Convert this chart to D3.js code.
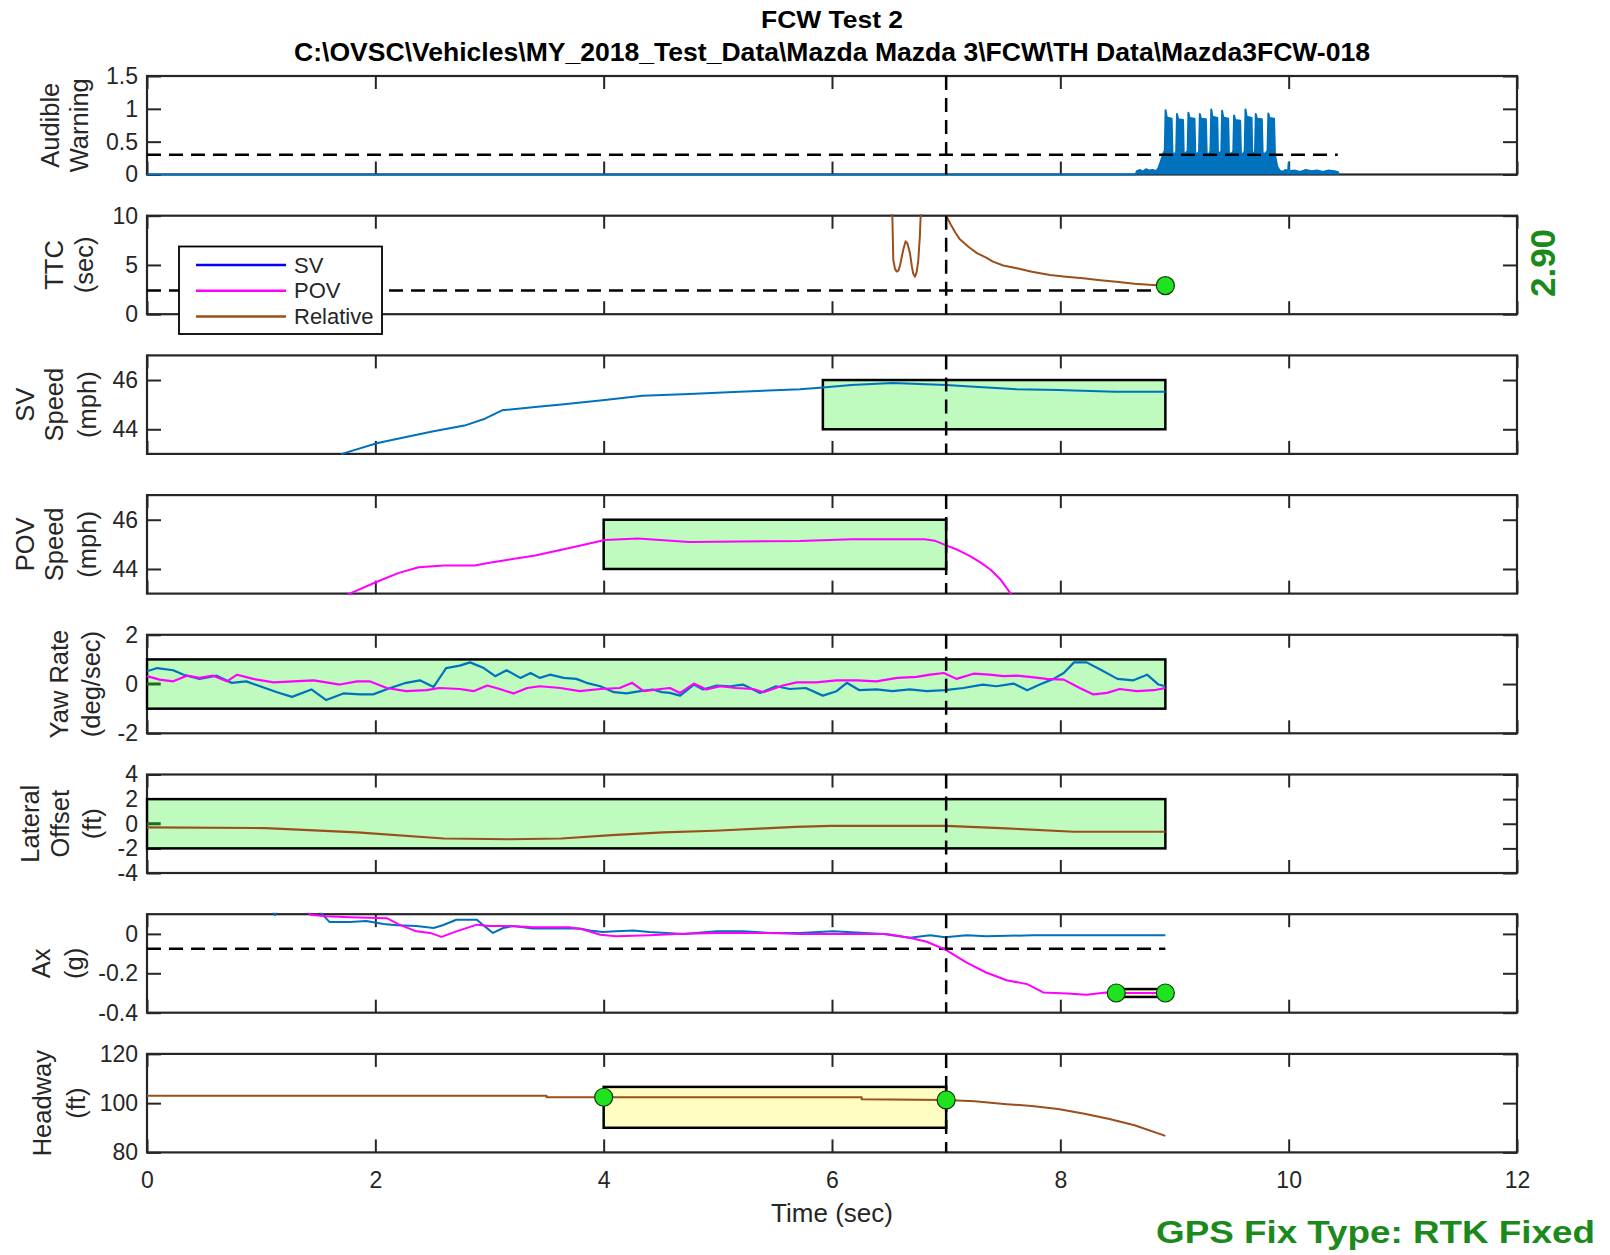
<!DOCTYPE html>
<html>
<head>
<meta charset="utf-8">
<script src="https://cdn.jsdelivr.net/npm/d3@7"></script>
<style>
  html, body { margin: 0; padding: 0; background: #fff; }
  svg { display: block; font-family: "Liberation Sans", Arial, Helvetica, sans-serif; }
</style>
</head>
<body>
<svg id="chart" width="1610" height="1255"></svg>
<script>
// ---------------- time axis ----------------
const timeTicks = [0, 2, 4, 6, 8, 10, 12];
const eventTime = 7;

// ---------------- audible warning (envelope of the buzzer signal) ----------------
const audibleT = [0, 8.66, 8.67, 8.70, 8.72, 8.75, 8.78, 8.81, 8.84, 8.86, 8.88, 8.905,
  8.915, 8.922, 8.932, 8.975, 8.982, 9.000,
  9.015, 9.022, 9.032, 9.075, 9.082, 9.095,
  9.115, 9.122, 9.132, 9.175, 9.182, 9.200,
  9.215, 9.222, 9.232, 9.275, 9.282, 9.300,
  9.315, 9.322, 9.332, 9.375, 9.382, 9.395,
  9.410, 9.417, 9.427, 9.470, 9.477, 9.495,
  9.515, 9.522, 9.532, 9.575, 9.582, 9.600,
  9.615, 9.622, 9.632, 9.675, 9.682, 9.695,
  9.705, 9.712, 9.722, 9.765, 9.772, 9.790,
  9.815, 9.822, 9.832, 9.872, 9.880, 9.900, 9.920,
  9.95, 9.97, 9.995, 10.0, 10.005, 10.05, 10.10, 10.15, 10.20, 10.25, 10.30, 10.35, 10.40, 10.43, 10.44];
const audibleV = [0, 0, 0.05, 0.07, 0.04, 0.08, 0.06, 0.07, 0.05, 0.10, 0.20, 0.33,
  0.36, 0.98, 0.87, 0.85, 0.33, 0.30,
  0.35, 0.92, 0.84, 0.83, 0.20, 0.32,
  0.36, 0.94, 0.86, 0.85, 0.33, 0.31,
  0.35, 0.92, 0.85, 0.84, 0.32, 0.30,
  0.36, 0.99, 0.88, 0.86, 0.20, 0.33,
  0.35, 0.97, 0.87, 0.85, 0.33, 0.31,
  0.35, 0.90, 0.83, 0.82, 0.32, 0.31,
  0.36, 0.99, 0.88, 0.86, 0.20, 0.32,
  0.35, 0.92, 0.85, 0.84, 0.33, 0.31,
  0.36, 0.93, 0.86, 0.85, 0.30, 0.12, 0.06,
  0.04, 0.07, 0.05, 0.18, 0.05, 0.06, 0.04, 0.07, 0.05, 0.06, 0.04, 0.06, 0.05, 0.04, 0];
const audibleThreshold = 0.3;
const audibleThresholdEnd = 10.43;

// ---------------- time to collision (relative) ----------------
const ttcDipT = [6.528, 6.537, 6.552, 6.566, 6.580, 6.595, 6.625, 6.645, 6.660, 6.683, 6.700, 6.712, 6.727, 6.742, 6.756, 6.770, 6.777];
const ttcDipV = [10.2, 5.5, 4.6, 4.33, 4.4, 4.9, 6.6, 7.4, 7.2, 6.2, 4.8, 4.1, 3.81, 4.3, 5.5, 8.0, 10.2];
const ttcT = [7.00, 7.04, 7.08, 7.12, 7.20, 7.27, 7.35, 7.41, 7.50, 7.62, 7.75, 7.91, 8.05, 8.20, 8.35, 8.49, 8.65, 8.78, 8.92];
const ttcV = [10.0, 9.1, 8.3, 7.6, 6.8, 6.2, 5.75, 5.34, 4.95, 4.66, 4.3, 3.98, 3.8, 3.64, 3.45, 3.3, 3.1, 2.98, 2.90];
const ttcThreshold = 2.4;

// ---------------- speeds (mph) ----------------
const svSpeedT = [1.70, 2.02, 2.29, 2.51, 2.78, 2.96, 3.11, 3.40, 3.63, 4.01, 4.34, 4.75, 5.19, 5.72, 5.92, 6.17, 6.53, 7.00, 7.21, 7.62, 7.98, 8.48, 8.92];
const svSpeedV = [42.99, 43.44, 43.71, 43.92, 44.15, 44.43, 44.77, 44.90, 45.01, 45.19, 45.36, 45.43, 45.52, 45.63, 45.70, 45.80, 45.88, 45.80, 45.74, 45.63, 45.59, 45.52, 45.52];
const povSpeedT = [1.76, 2.02, 2.20, 2.38, 2.60, 2.87, 3.00, 3.40, 3.72, 4.01, 4.30, 4.75, 5.72, 6.17, 6.81, 6.90, 7.00, 7.10, 7.21, 7.30, 7.39, 7.48, 7.57];
const povSpeedV = [42.97, 43.49, 43.83, 44.07, 44.14, 44.14, 44.25, 44.55, 44.87, 45.18, 45.24, 45.10, 45.14, 45.21, 45.21, 45.15, 44.96, 44.78, 44.52, 44.27, 43.97, 43.55, 42.97];

// ---------------- yaw rate (deg/sec) ----------------
const yawSvT = [0.00,0.09,0.23,0.32,0.46,0.61,0.74,0.87,0.99,1.14,1.27,1.44,1.57,1.72,1.87,1.98,2.13,2.27,2.39,2.51,2.62,2.74,2.83,2.95,3.05,3.15,3.27,3.36,3.44,3.53,3.65,3.76,3.85,3.97,4.09,4.20,4.32,4.43,4.51,4.58,4.67,4.79,4.87,4.99,5.11,5.22,5.37,5.51,5.63,5.77,5.92,6.04,6.13,6.24,6.39,6.53,6.68,6.83,6.99,7.15,7.32,7.44,7.59,7.71,7.82,7.94,8.03,8.12,8.23,8.35,8.50,8.64,8.76,8.86,8.92];
const yawSvV = [0.52,0.65,0.56,0.38,0.21,0.34,0.05,0.11,-0.09,-0.33,-0.52,-0.22,-0.65,-0.38,-0.42,-0.42,-0.16,0.05,0.15,-0.12,0.65,0.75,0.88,0.65,0.32,0.56,0.25,0.45,0.25,0.38,0.25,0.21,0.05,-0.09,-0.33,-0.38,-0.29,-0.22,-0.33,-0.36,-0.47,-0.02,-0.22,-0.06,-0.09,-0.02,-0.36,-0.09,-0.20,-0.16,-0.47,-0.29,0.05,-0.25,-0.22,-0.29,-0.22,-0.29,-0.25,-0.16,-0.02,-0.09,0.02,-0.25,-0.02,0.21,0.45,0.88,0.88,0.59,0.21,0.15,0.38,-0.02,-0.09];
const yawPovT = [0.00,0.11,0.23,0.35,0.46,0.58,0.70,0.79,0.93,1.11,1.28,1.46,1.57,1.69,1.84,1.95,2.10,2.27,2.45,2.56,2.74,2.86,2.98,3.09,3.21,3.33,3.44,3.62,3.79,3.97,4.14,4.25,4.35,4.50,4.58,4.67,4.79,4.90,5.02,5.16,5.31,5.40,5.57,5.69,5.86,6.04,6.22,6.39,6.57,6.74,6.86,6.98,7.09,7.24,7.38,7.50,7.62,7.73,7.88,8.03,8.17,8.29,8.41,8.52,8.67,8.82,8.92];
const yawPovV = [0.32,0.18,0.11,0.34,0.25,0.34,0.11,0.38,0.21,0.07,0.11,0.15,0.07,-0.02,0.11,0.11,-0.16,-0.29,-0.25,-0.16,-0.20,-0.29,-0.06,-0.20,-0.38,-0.16,-0.09,-0.16,-0.29,-0.20,-0.16,0.05,-0.29,-0.20,-0.16,-0.36,0.02,-0.22,-0.09,-0.16,-0.20,-0.33,-0.06,0.07,0.07,0.15,0.15,0.11,0.25,0.29,0.38,0.45,0.21,0.42,0.38,0.32,0.34,0.29,0.21,0.18,-0.16,-0.42,-0.36,-0.20,-0.29,-0.25,-0.16];
const yawRelT = [0.00, 0.12];
const yawRelV = [0.0, 0.0];

// ---------------- lateral offset (ft) ----------------
const latT = [0.00, 1.04, 1.84, 2.60, 3.18, 3.63, 4.07, 4.52, 4.97, 5.41, 5.68, 5.99, 7.00, 7.53, 8.12, 8.92];
const latV = [-0.30, -0.35, -0.70, -1.20, -1.26, -1.20, -0.93, -0.70, -0.57, -0.38, -0.25, -0.18, -0.18, -0.38, -0.65, -0.65];
const latRelT = [0.00, 0.12];
const latRelV = [0.0, 0.0];

// ---------------- longitudinal acceleration (g) ----------------
const axSvT = [1.10,1.12,1.14,1.50,1.55,1.60,1.78,1.92,2.07,2.19,2.36,2.51,2.59,2.71,2.89,2.94,3.03,3.12,3.21,3.38,3.79,3.88,3.99,4.11,4.26,4.40,4.55,4.70,4.99,5.22,5.46,5.72,6.01,6.45,6.68,6.86,6.99,7.18,7.35,7.76,8.92];
const axSvV = [0.12,0.096,0.12,0.12,0.09,0.06,0.06,0.065,0.05,0.044,0.04,0.03,0.044,0.072,0.072,0.047,0.005,0.03,0.04,0.027,0.027,0.017,0.01,0.013,0.017,0.01,0.005,0.0,0.013,0.013,0.005,0.005,0.013,0.0,-0.02,-0.007,-0.017,-0.007,-0.012,-0.007,-0.007];
const axPovT = [1.40,1.43,1.57,1.78,2.10,2.21,2.36,2.48,2.58,2.71,2.89,3.00,3.18,3.38,3.70,3.82,3.97,4.11,4.40,4.64,4.99,5.46,5.72,6.48,6.68,6.83,6.99,7.18,7.35,7.53,7.71,7.85,8.06,8.23,8.40,8.49,8.70,8.92];
const axPovV = [0.12,0.097,0.09,0.085,0.08,0.047,0.013,0.005,-0.015,0.013,0.047,0.04,0.04,0.034,0.034,0.022,-0.004,-0.012,-0.007,0.0,0.005,0.005,0.0,0.0,-0.02,-0.04,-0.079,-0.146,-0.196,-0.235,-0.255,-0.297,-0.302,-0.309,-0.297,-0.300,-0.300,-0.300];
const axThreshold = -0.075;

// ---------------- headway (ft) ----------------
const headwayT = [0.00, 3.50, 3.50, 6.26, 6.26, 7.00, 7.25, 7.53, 7.75, 7.98, 8.20, 8.43, 8.65, 8.92];
const headwayV = [103.0, 103.0, 102.4, 102.4, 101.6, 101.3, 100.8, 99.6, 98.8, 97.6, 95.8, 93.6, 91.0, 86.7];

// ---------------- tolerance windows ----------------
const svBoxT = [5.92, 8.92],  svBoxV = [44, 46];
const povBoxT = [4, 7],       povBoxV = [44, 46];
const yawBoxT = [0, 8.92],    yawBoxV = [-1, 1];
const latBoxT = [0, 8.92],    latBoxV = [-2, 2];
const axBoxT = [8.49, 8.92],  axBoxV = [-0.32, -0.28];
const hwBoxT = [4, 7],        hwBoxV = [90, 106.6];

const ttcFinal = 2.90;

// ---------------- styling ----------------
const C = {
  sv: '#0072BD', pov: '#FF00FF', rel: '#9A4F1C', relDark: '#1F6A1F',
  legendSv: '#0000FF', green: '#BFFABF', yellow: '#FFFDC2', axis: '#262626',
  dot: '#1FE31F', dotEdge: '#0B3A0B', label: '#1B8A1B'
};
const TICK_FONT = 23;
const LABEL_FONT = 25.5;

const svg = d3.select('#chart');
const x = d3.scaleLinear().domain([0, 12]).range([147, 1517]);
const PANEL_TOP0 = 76, PANEL_STEP = 139.7, PANEL_H = 98.5;

const zip = (t, v) => t.map((d, i) => [d, v[i]]);
const fmt = d => String(d);

const panels = [
  { id: 'aud', label: ['Audible', 'Warning'], lx: [50, 79], domain: [0, 1.5], ticks: [0, 0.5, 1, 1.5] },
  { id: 'ttc', label: ['TTC', '(sec)'], lx: [54, 84], domain: [0, 10], ticks: [0, 5, 10] },
  { id: 'svs', label: ['SV', 'Speed', '(mph)'], lx: [25, 54, 87], domain: [43, 47], ticks: [44, 46] },
  { id: 'pos', label: ['POV', 'Speed', '(mph)'], lx: [25, 54, 87], domain: [43, 47], ticks: [44, 46] },
  { id: 'yaw', label: ['Yaw Rate', '(deg/sec)'], lx: [59, 91], domain: [-2, 2], ticks: [-2, 0, 2] },
  { id: 'lat', label: ['Lateral', 'Offset', '(ft)'], lx: [30, 60, 92], domain: [-4, 4], ticks: [-4, -2, 0, 2, 4] },
  { id: 'ax', label: ['Ax', '(g)'], lx: [41, 74], domain: [-0.4, 0.1], ticks: [-0.4, -0.2, 0] },
  { id: 'hw', label: ['Headway', '(ft)'], lx: [42, 76], domain: [80, 120], ticks: [80, 100, 120] }
];

const defs = svg.append('defs');

panels.forEach((p, i) => {
  const top = PANEL_TOP0 + i * PANEL_STEP;
  const bottom = top + PANEL_H;
  const y = d3.scaleLinear().domain(p.domain).range([bottom, top]);
  p.y = y; p.top = top; p.bottom = bottom;

  defs.append('clipPath').attr('id', 'clip-' + p.id)
    .append('rect').attr('x', x(0) - 1.5).attr('y', top - 1.5)
    .attr('width', x(12) - x(0) + 3).attr('height', PANEL_H + 3);

  const g = svg.append('g').attr('class', 'panel panel-' + p.id);
  p.g = g;
  p.axes = g.append('g').attr('class', 'axes');
  p.plot = g.append('g').attr('class', 'plot').attr('clip-path', `url(#clip-${p.id})`);
  p.marks = g.append('g').attr('class', 'marks');

  // y label
  const cy = (top + bottom) / 2;
  p.label.forEach((txt, k) => {
    g.append('text')
      .attr('x', p.lx[k]).attr('y', cy)
      .attr('transform', `rotate(-90, ${p.lx[k]}, ${cy})`)
      .attr('text-anchor', 'middle').attr('dominant-baseline', 'central')
      .attr('font-size', LABEL_FONT).attr('fill', C.axis)
      .text(txt);
  });
});

// ---- drawing helpers ----
const lineGen = (y) => d3.line().x(d => x(d[0])).y(d => y(d[1]));

function drawLine(p, t, v, color, width = 2) {
  p.plot.append('path').datum(zip(t, v))
    .attr('d', lineGen(p.y)).attr('fill', 'none')
    .attr('stroke', color).attr('stroke-width', width)
    .attr('stroke-linejoin', 'round');
}
function drawBox(p, t, v, fill) {
  p.plot.append('rect')
    .attr('x', x(t[0])).attr('width', x(t[1]) - x(t[0]))
    .attr('y', p.y(v[1])).attr('height', p.y(v[0]) - p.y(v[1]))
    .attr('fill', fill).attr('stroke', '#000').attr('stroke-width', 2.5);
}
function drawHDash(p, value, t0, t1) {
  p.plot.append('line')
    .attr('x1', x(t0)).attr('x2', x(t1)).attr('y1', p.y(value)).attr('y2', p.y(value))
    .attr('stroke', '#000').attr('stroke-width', 2.5).attr('stroke-dasharray', '14,8');
}
function drawEvent(p) {
  p.plot.append('line')
    .attr('x1', x(eventTime)).attr('x2', x(eventTime)).attr('y1', p.top).attr('y2', p.bottom)
    .attr('stroke', '#000').attr('stroke-width', 2.5).attr('stroke-dasharray', '14,8');
}
function drawDot(p, t, v) {
  p.marks.append('circle').attr('cx', x(t)).attr('cy', p.y(v)).attr('r', 9)
    .attr('fill', C.dot).attr('stroke', C.dotEdge).attr('stroke-width', 1.2);
}
const valueAt = (T, V, t) => V[T.indexOf(t)];

const [pAud, pTtc, pSv, pPov, pYaw, pLat, pAx, pHw] = panels;

// ---- axes (box with inward ticks), drawn beneath the data ----
function styleAxis(sel) {
  sel.select('.domain').remove();
  sel.selectAll('.tick line').attr('stroke', C.axis).attr('stroke-width', 2);
  sel.selectAll('.tick text').attr('fill', C.axis).attr('font-size', TICK_FONT)
     .attr('font-family', '"Liberation Sans", Arial, Helvetica, sans-serif');
}
panels.forEach((p, i) => {
  const g = p.axes;
  g.append('rect')
    .attr('x', x(0)).attr('y', p.top).attr('width', x(12) - x(0)).attr('height', PANEL_H)
    .attr('fill', 'none').attr('stroke', C.axis).attr('stroke-width', 2.2);
  g.append('g').attr('transform', `translate(${x(0)},0)`)
    .call(d3.axisLeft(p.y).tickValues(p.ticks).tickFormat(fmt).tickSizeInner(-14).tickSizeOuter(0).tickPadding(9))
    .call(styleAxis);
  g.append('g').attr('transform', `translate(${x(12)},0)`)
    .call(d3.axisRight(p.y).tickValues(p.ticks).tickFormat('').tickSizeInner(-14).tickSizeOuter(0))
    .call(styleAxis);
  g.append('g').attr('transform', `translate(0,${p.top})`)
    .call(d3.axisTop(x).tickValues(timeTicks).tickFormat('').tickSizeInner(-13).tickSizeOuter(0))
    .call(styleAxis);
  const last = i === panels.length - 1;
  g.append('g').attr('transform', `translate(0,${p.bottom})`)
    .call(d3.axisBottom(x).tickValues(timeTicks).tickFormat(last ? fmt : '').tickSizeInner(-13).tickSizeOuter(0).tickPadding(19))
    .call(styleAxis);
});

// Audible warning
pAud.plot.append('path').datum(zip(audibleT, audibleV))
  .attr('d', d3.area().x(d => x(d[0])).y0(pAud.y(0)).y1(d => pAud.y(d[1])))
  .attr('fill', C.sv);
drawLine(pAud, audibleT, audibleV, C.sv, 2);
drawHDash(pAud, audibleThreshold, 0, audibleThresholdEnd);
drawEvent(pAud);

// TTC
drawLine(pTtc, ttcDipT, ttcDipV, C.rel, 2);
drawLine(pTtc, ttcT, ttcV, C.rel, 2);
drawHDash(pTtc, ttcThreshold, 0, ttcT[ttcT.length - 1]);
drawEvent(pTtc);
drawDot(pTtc, ttcT[ttcT.length - 1], ttcV[ttcV.length - 1]);

// SV speed
drawBox(pSv, svBoxT, svBoxV, C.green);
drawLine(pSv, svSpeedT, svSpeedV, C.sv, 2);
drawEvent(pSv);

// POV speed
drawBox(pPov, povBoxT, povBoxV, C.green);
drawLine(pPov, povSpeedT, povSpeedV, C.pov, 2);
drawEvent(pPov);

// Yaw rate
drawBox(pYaw, yawBoxT, yawBoxV, C.green);
drawLine(pYaw, yawRelT, yawRelV, C.relDark, 3);
drawLine(pYaw, yawSvT, yawSvV, C.sv, 2.2);
drawLine(pYaw, yawPovT, yawPovV, C.pov, 2.2);
drawEvent(pYaw);

// Lateral offset
drawBox(pLat, latBoxT, latBoxV, C.green);
drawLine(pLat, latRelT, latRelV, C.relDark, 3);
drawLine(pLat, latT, latV, C.rel, 2.2);
drawEvent(pLat);

// Ax
drawHDash(pAx, axThreshold, 0, 8.92);
drawBox(pAx, axBoxT, axBoxV, C.yellow);
drawLine(pAx, axSvT, axSvV, C.sv, 2);
drawLine(pAx, axPovT, axPovV, C.pov, 2);
drawEvent(pAx);
drawDot(pAx, axBoxT[0], valueAt(axPovT, axPovV, 8.49));
drawDot(pAx, axBoxT[1], valueAt(axPovT, axPovV, 8.92));

// Headway
drawBox(pHw, hwBoxT, hwBoxV, C.yellow);
drawLine(pHw, headwayT, headwayV, C.rel, 2);
drawEvent(pHw);
drawDot(pHw, hwBoxT[0], 102.4);
drawDot(pHw, hwBoxT[1], valueAt(headwayT, headwayV, 7.00));

// x axis label
svg.append('text')
  .attr('x', (x(0) + x(12)) / 2).attr('y', 1222)
  .attr('text-anchor', 'middle').attr('font-size', 26).attr('fill', C.axis)
  .text('Time (sec)');

// ---- legend in TTC panel ----
const legendItems = [
  { name: 'SV', color: C.legendSv },
  { name: 'POV', color: C.pov },
  { name: 'Relative', color: C.rel }
];
const lg = svg.append('g').attr('class', 'legend');
lg.append('rect').attr('x', 179).attr('y', 246.5).attr('width', 203).attr('height', 87.5)
  .attr('fill', '#fff').attr('stroke', '#000').attr('stroke-width', 1.8);
legendItems.forEach((d, k) => {
  const yy = 265 + k * 25.7;
  lg.append('line').attr('x1', 196).attr('x2', 286).attr('y1', yy).attr('y2', yy)
    .attr('stroke', d.color).attr('stroke-width', 2.5);
  lg.append('text').attr('x', 294).attr('y', yy).attr('dominant-baseline', 'central')
    .attr('font-size', 22).attr('fill', C.axis).text(d.name);
});

// ---- TTC readout ----
svg.append('text')
  .attr('x', 1555).attr('y', 263)
  .attr('transform', 'rotate(-90, 1555, 263)')
  .attr('text-anchor', 'middle')
  .attr('font-size', 35).attr('font-weight', 'bold').attr('fill', C.label)
  .text(d3.format('.2f')(ttcFinal));

// ---- titles ----
svg.append('text')
  .attr('x', 832).attr('y', 28).attr('text-anchor', 'middle')
  .attr('font-size', 24).attr('font-weight', 'bold').attr('fill', '#000')
  .attr('textLength', 142).attr('lengthAdjust', 'spacingAndGlyphs')
  .text('FCW Test 2');
svg.append('text')
  .attr('x', 832).attr('y', 61).attr('text-anchor', 'middle')
  .attr('font-size', 25).attr('font-weight', 'bold').attr('fill', '#000')
  .attr('textLength', 1076).attr('lengthAdjust', 'spacingAndGlyphs')
  .text('C:\\OVSC\\Vehicles\\MY_2018_Test_Data\\Mazda Mazda 3\\FCW\\TH Data\\Mazda3FCW-018');

svg.append('text')
  .attr('x', 1595).attr('y', 1243).attr('text-anchor', 'end')
  .attr('font-size', 31).attr('font-weight', 'bold').attr('fill', C.label)
  .attr('textLength', 439).attr('lengthAdjust', 'spacingAndGlyphs')
  .text('GPS Fix Type: RTK Fixed');
</script>
</body>
</html>
